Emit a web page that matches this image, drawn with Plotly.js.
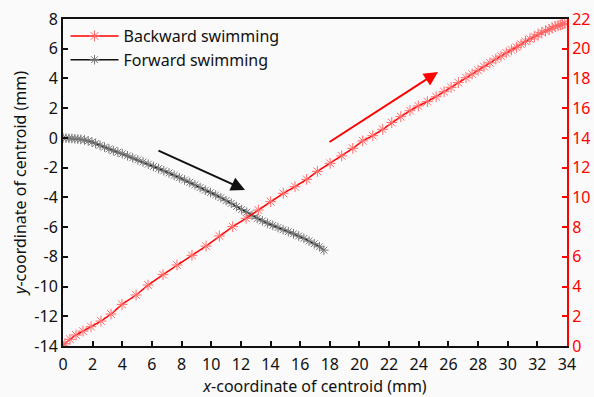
<!DOCTYPE html>
<html>
<head>
<meta charset="utf-8">
<script src="https://cdn.plot.ly/plotly-3.0.1.min.js"></script>
<style>html,body{margin:0;padding:0;background:#fafafa;}#chart{width:594px;height:397px;}</style>
</head>
<body>
<div id="chart"></div>
<script>
// Backward swimming (red, right axis)
const backX = [0,0.13,0.47,0.88,1.35,1.89,2.56,3.24,3.98,4.93,5.74,6.75,7.69,8.7,9.65,10.55,11.45,12.35,13.18,14.01,14.86,15.65,16.44,17.16,18.02,18.8,19.55,20.22,20.9,21.57,22.18,22.79,23.41,23.97,24.58,25.17,25.71,26.18,26.67,27.19,27.6,28.0,28.4,28.8,29.2,29.55,29.9,30.25,30.6,30.9,31.2,31.5,31.8,32.05,32.3,32.55,32.8,33.0,33.2,33.4,33.55,33.7,33.85];
const backY = [0,0.15,0.45,0.74,1.0,1.3,1.68,2.15,2.8,3.43,4.1,4.8,5.45,6.1,6.72,7.4,8.03,8.59,9.15,9.71,10.27,10.72,11.21,11.75,12.29,12.79,13.3,13.8,14.15,14.58,15.03,15.43,15.83,16.15,16.44,16.77,17.11,17.4,17.72,18.05,18.3,18.55,18.8,19.05,19.3,19.5,19.72,19.92,20.1,20.3,20.5,20.65,20.8,20.95,21.1,21.2,21.3,21.4,21.5,21.55,21.6,21.65,21.7];
// Forward swimming (black, left axis)
const fwdX = [0,0.2,0.4,0.6,0.8,1.0,1.2,1.45,1.7,1.95,2.2,2.5,2.8,3.1,3.4,3.7,4.0,4.35,4.7,5.05,5.4,5.75,6.1,6.45,6.8,7.15,7.5,7.85,8.2,8.55,8.9,9.25,9.6,9.95,10.3,10.65,11.0,11.35,11.7,12.05,12.4,12.75,13.1,13.45,13.8,14.15,14.5,14.85,15.2,15.55,15.9,16.25,16.6,16.95,17.3,17.6];
const fwdY = [0,-0.01,-0.03,-0.04,-0.06,-0.08,-0.1,-0.14,-0.2,-0.28,-0.38,-0.5,-0.62,-0.74,-0.86,-0.96,-1.06,-1.2,-1.34,-1.48,-1.62,-1.77,-1.92,-2.06,-2.21,-2.36,-2.52,-2.68,-2.83,-2.99,-3.16,-3.34,-3.52,-3.68,-3.84,-4.02,-4.22,-4.4,-4.62,-4.82,-5.0,-5.22,-5.42,-5.58,-5.74,-5.88,-6.03,-6.18,-6.31,-6.45,-6.6,-6.76,-6.94,-7.12,-7.32,-7.55];
const xTicks = [0,2,4,6,8,10,12,14,16,18,20,22,24,26,28,30,32,34];
const yTicks = [-14,-12,-10,-8,-6,-4,-2,0,2,4,6,8];
const y2Ticks = [0,2,4,6,8,10,12,14,16,18,20,22];

const FONT = 'Noto Sans, sans-serif';
const FS = 16;
const traces = [
  {x: backX, y: backY, yaxis: 'y2', name: 'Backward swimming', mode: 'lines+markers',
   line: {color: '#ff0000', width: 1.5},
   marker: {symbol: 'asterisk', size: 9, color: '#ff7070', line: {color: '#ff6a6a', width: 1}}},
  {x: fwdX, y: fwdY, name: 'Forward swimming', mode: 'lines+markers',
   line: {color: '#111111', width: 1.5},
   marker: {symbol: 'asterisk', size: 8, color: '#777777', line: {color: '#777777', width: 1}}}
];
const layout = {
  width: 594, height: 397,
  margin: {l: 63, r: 27, t: 19, b: 51},
  paper_bgcolor: '#fafafa', plot_bgcolor: '#fafafa',
  font: {family: FONT, size: FS, color: '#111'},
  showlegend: true,
  legend: {x: 0.005, y: 1.0, xanchor: 'left', yanchor: 'top', bgcolor: 'rgba(0,0,0,0)',
           font: {family: FONT, size: FS, color: '#111'}, itemwidth: 48, tracegroupgap: 0},
  xaxis: {range: [0, 34], tickvals: xTicks, ticktext: xTicks.map(String), ticks: 'inside', ticklen: 5, tickwidth: 2,
          tickcolor: '#111', showline: true, linecolor: '#111', linewidth: 2, mirror: true, showgrid: false, zeroline: false,
          ticklabelstandoff: 3,
          title: {text: '<i>x</i>-coordinate of centroid (mm)', font: {family: FONT, size: FS}, standoff: 4},
          tickfont: {family: FONT, size: FS}},
  yaxis: {range: [-14, 8], tickvals: yTicks, ticktext: yTicks.map(String), ticks: 'inside', ticklen: 5, tickwidth: 2,
          tickcolor: '#111', showline: true, linecolor: '#111', linewidth: 2, showgrid: false, zeroline: false,
          title: {text: '<i>y</i>-coordinate of centroid (mm)', font: {family: FONT, size: FS}, standoff: 4},
          tickfont: {family: FONT, size: FS}},
  yaxis2: {range: [0, 22], tickvals: y2Ticks, ticktext: y2Ticks.map(String), overlaying: 'y', side: 'right',
           ticks: 'inside', ticklen: 5, tickwidth: 2, tickcolor: '#ff0000', showline: true, linecolor: '#ff0000', linewidth: 2,
           showgrid: false, zeroline: false, tickfont: {family: FONT, size: FS, color: '#ff0000'}},
  annotations: [
    {x: 12.28, y: -3.5, ax: 6.34, ay: -0.81, xref: 'x', yref: 'y', axref: 'x', ayref: 'y', text: '',
     showarrow: true, arrowhead: 2, arrowsize: 1.4, arrowwidth: 2, arrowcolor: '#111'},
    {x: 25.3, y: 4.44, ax: 17.88, ay: -0.34, xref: 'x', yref: 'y', axref: 'x', ayref: 'y', text: '',
     showarrow: true, arrowhead: 2, arrowsize: 1.4, arrowwidth: 2, arrowcolor: '#ff0000'}
  ]
};
Plotly.newPlot('chart', traces, layout, {displayModeBar: false, staticPlot: true});
</script>
</body>
</html>
